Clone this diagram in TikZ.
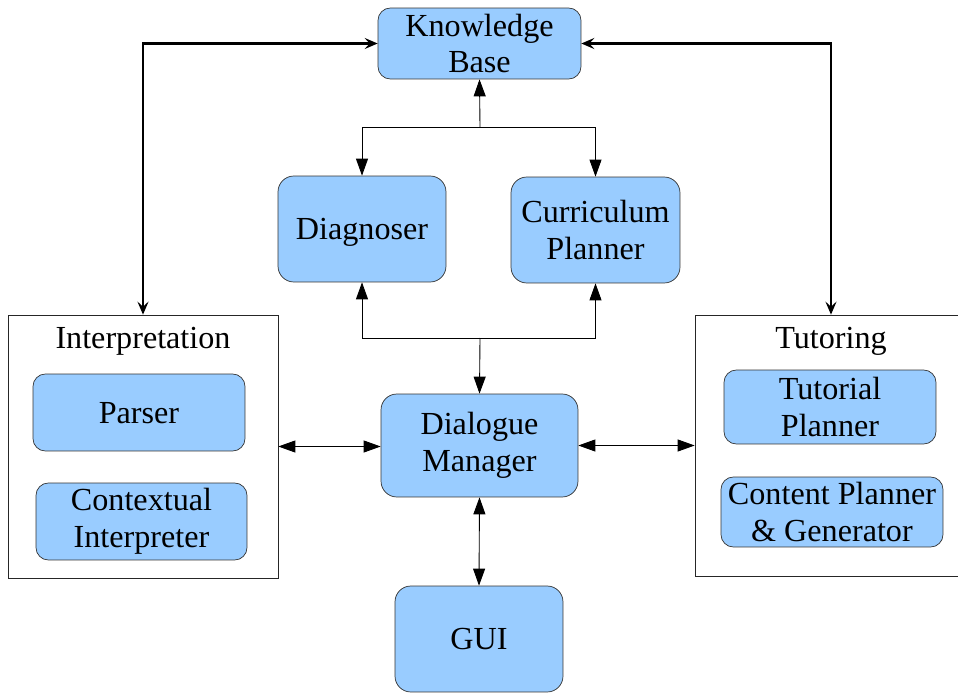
\documentclass[tikz,border=0pt]{standalone}
\usepackage{fontspec}
\setmainfont{LiberationSerif}[Extension=.ttf,UprightFont=*-Regular,BoldFont=*-Bold]
\usetikzlibrary{arrows.meta,calc,positioning}
\definecolor{modblue}{HTML}{99CCFF}
\newcommand{\tfont}{\rmfamily\fontsize{18.3}{21}\selectfont}
\tikzset{
  tmod/.style={draw=black!80,fill=modblue,rounded corners=7pt,align=center,font=\tfont,inner sep=0pt},
  tgrp/.style={draw=black!85,fill=white,inner sep=0pt},
  tlab/.style={font=\tfont},
  tlink/.style={line width=0.5pt,-{Triangle[length=3.4mm,width=2.4mm]}},
  tlinkB/.style={line width=0.5pt,{Triangle[length=3.4mm,width=2.4mm]}-{Triangle[length=3.4mm,width=2.4mm]}},
  tkb/.style={line width=1.3pt,{Stealth[length=2.6mm,width=2.2mm,inset=1mm]}-{Stealth[length=2.6mm,width=2.2mm,inset=1mm]}},
}
\begin{document}
\begin{tikzpicture}[x=0.02cm,y=-0.02cm]
\useasboundingbox (0,0) rectangle (958,693);
% modules
\node[tmod,minimum width=4.06cm,minimum height=1.42cm] (kb) at (479.5,43.5) {Knowledge\\Base};
\node[tmod,minimum width=3.36cm,minimum height=2.12cm,rounded corners=9pt,text depth=0pt] (diag) at (362,229) {Diagnoser};
\node[tmod,minimum width=3.38cm,minimum height=2.12cm,rounded corners=9pt] (curr) at (595.5,230) {Curriculum\\Planner};
\node[tmod,minimum width=3.94cm,minimum height=2.06cm,rounded corners=9pt] (dm) at (479.5,445.5) {Dialogue\\Manager};
\node[tmod,minimum width=3.36cm,minimum height=2.12cm,rounded corners=9pt,text depth=0pt] (gui) at (479,639) {GUI};
% interpretation group
\node[tgrp,minimum width=5.4cm,minimum height=5.26cm] (interp) at (143,446.5) {};
\node[tlab] (interpT) at (143,341) {Interpretation};
\node[tmod,minimum width=4.24cm,minimum height=1.54cm,text depth=0pt] (parser) at (139,412.5) {Parser};
\node[tmod,minimum width=4.22cm,minimum height=1.54cm] (ctx) at (141.5,521.5) {Contextual\\Interpreter};
% tutoring group
\node[tgrp,minimum width=5.26cm,minimum height=5.22cm] (tutor) at (826.5,445.5) {};
\node[tlab] (tutorT) at (831,341) {Tutoring};
\node[tmod,minimum width=4.24cm,minimum height=1.48cm] (tplan) at (830,407) {Tutorial\\Planner};
\node[tmod,minimum width=4.44cm,minimum height=1.4cm] (cplan) at (832,512) {Content Planner\\\& Generator};
% knowledge base links
\draw[tkb] (kb.west) -| (interp.north);
\draw[tkb] (kb.east) -| ($(tutor.north)+(4.5,0)$);
\coordinate (kbsplit) at (480,127);
\draw[tlink] (kbsplit) -- (kb.south);
\draw[tlink] (kbsplit) -| (diag.north);
\draw[tlink] (kbsplit) -| (curr.north);
% dialogue manager links
\coordinate (dmsplit) at (480,338);
\draw[tlink] (dmsplit) -| (diag.south);
\draw[tlink] (dmsplit) -| (curr.south);
\draw[tlink] (dmsplit) -- (dm.north);
\draw[tlinkB] (interp.east) -- (interp.east -| dm.west);
\draw[tlinkB] (dm.east) -- (dm.east -| tutor.west);
\draw[tlinkB] (dm.south) -- (gui.north);
\end{tikzpicture}
\end{document}
